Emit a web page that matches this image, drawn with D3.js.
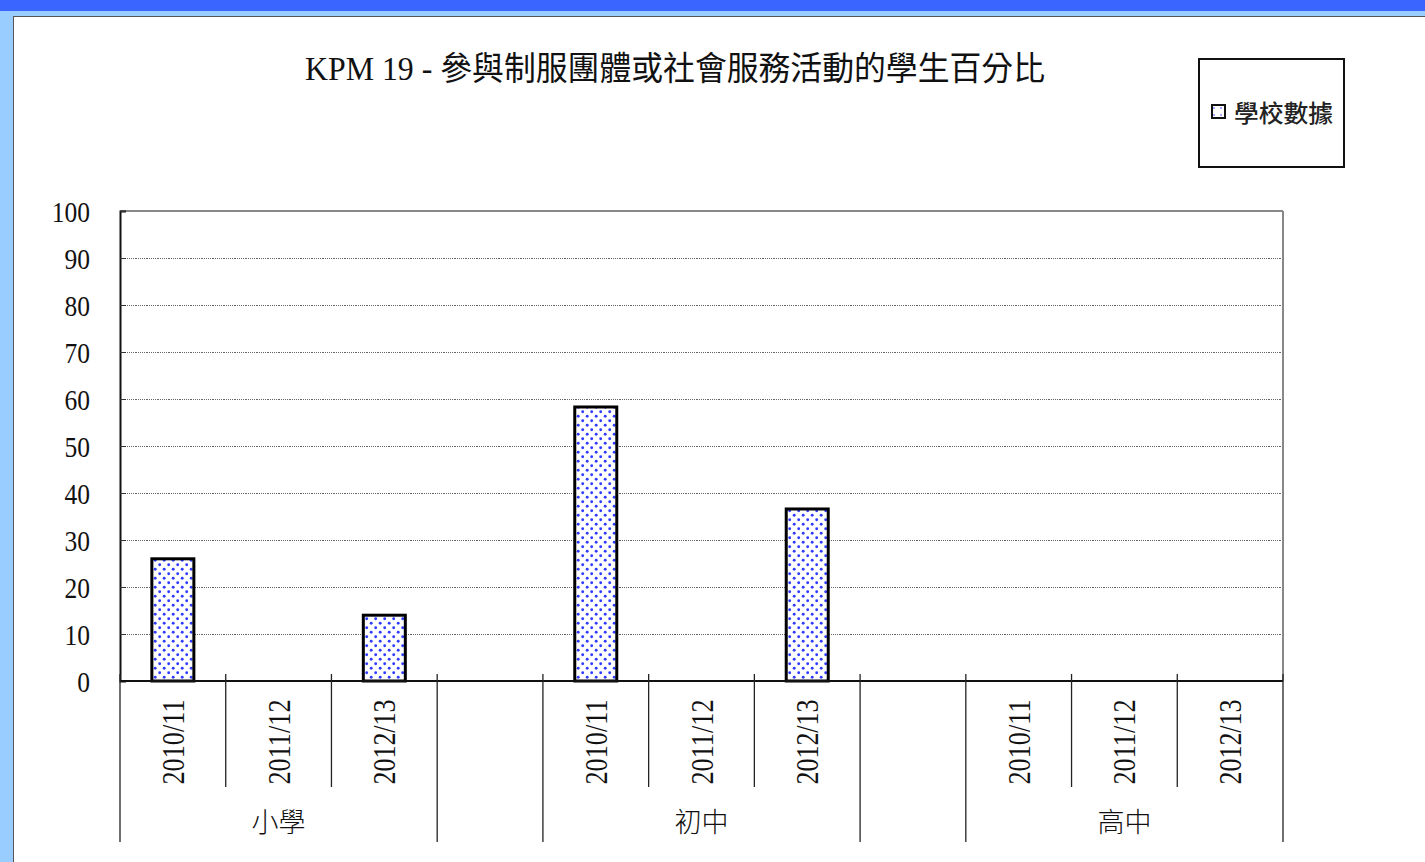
<!DOCTYPE html>
<html>
<head>
<meta charset="utf-8">
<script src="https://cdn.jsdelivr.net/npm/d3@7"></script>
<style>
  html, body { margin: 0; padding: 0; background: #fff; }
  svg { display: block; }
</style>
</head>
<body>
<script>
// ---- data ----
const title = "KPM 19 - 參與制服團體或社會服務活動的學生百分比";
const groups = ["小學", "初中", "高中"];
const years = ["2010/11", "2011/12", "2012/13"];
const valuesPrimary = [26, null, 14];     // 小學
const valuesJunior  = [58.3, null, 36.6]; // 初中
const valuesSenior  = [null, null, null]; // 高中
const seriesName = "學校數據";
const yTicks = [0, 10, 20, 30, 40, 50, 60, 70, 80, 90, 100];

const groupValues = [valuesPrimary, valuesJunior, valuesSenior];

// build slots: each group has its years, with an empty spacer slot between groups
const slots = [];
groups.forEach((g, gi) => {
  years.forEach((y, yi) => slots.push({key: g + "|" + y, group: g, year: y, value: groupValues[gi][yi], gi}));
  if (gi < groups.length - 1) slots.push({key: "gap" + gi, spacer: true, gi});
});

const W = 1425, H = 862;
const plot = {left: 120, right: 1283, top: 211, bottom: 681};
const serif = "'Liberation Serif', 'Times New Roman', 'Noto Sans CJK TC', serif";
const cjkSerifMix = "'Liberation Serif', 'Noto Sans CJK TC', serif";

const svg = d3.select("body").append("svg").attr("width", W).attr("height", H);

// pattern
const defs = svg.append("defs");
const pat = defs.append("pattern").attr("id", "dots").attr("patternUnits", "userSpaceOnUse")
  .attr("width", 9).attr("height", 9);
pat.append("rect").attr("width", 9).attr("height", 9).attr("fill", "#fff");
[[2.2, 2.2], [6.7, 6.7]].forEach(([cx, cy]) =>
  pat.append("circle").attr("cx", cx).attr("cy", cy).attr("r", 1.45).attr("fill", "#2f3cff"));
const pat2 = defs.append("pattern").attr("id", "dotsSparse").attr("patternUnits", "userSpaceOnUse")
  .attr("width", 7).attr("height", 7);
pat2.append("rect").attr("width", 7).attr("height", 7).attr("fill", "#fff");
pat2.append("circle").attr("cx", 3).attr("cy", 3).attr("r", 1).attr("fill", "#8c8cff");

// background frame
svg.append("rect").attr("width", W).attr("height", H).attr("fill", "#99ccff");
svg.append("rect").attr("width", W).attr("height", 11).attr("fill", "#3a66ff");
svg.append("rect").attr("x", 13.5).attr("y", 16.5).attr("width", W).attr("height", H)
  .attr("fill", "#fff").attr("stroke", "#555").attr("stroke-width", 1);

// scales
const x = d3.scaleBand().domain(slots.map(d => d.key)).range([plot.left, plot.right]).padding(0);
const y = d3.scaleLinear().domain([0, 100]).range([plot.bottom, plot.top]);

// gridlines
svg.append("g").selectAll("line").data(yTicks.filter(t => t > 0 && t < 100)).join("line")
  .attr("x1", plot.left).attr("x2", plot.right)
  .attr("y1", d => y(d)).attr("y2", d => y(d))
  .attr("stroke", "#666").attr("stroke-width", 1).attr("stroke-dasharray", "1.2,1")
  .attr("shape-rendering", "crispEdges");

// frame top & right
svg.append("line").attr("x1", plot.left).attr("x2", plot.right).attr("y1", y(100)).attr("y2", y(100))
  .attr("stroke", "#888").attr("stroke-width", 2);
svg.append("line").attr("x1", plot.right).attr("x2", plot.right).attr("y1", y(100)).attr("y2", y(0))
  .attr("stroke", "#888").attr("stroke-width", 2);

// y axis
const yAxis = svg.append("g").attr("transform", `translate(${plot.left},0)`)
  .call(d3.axisRight(y).tickValues(yTicks).tickSize(6).tickFormat(d3.format("d")));
yAxis.select(".domain").attr("stroke", "#111").attr("stroke-width", 2);
yAxis.selectAll(".tick line").attr("stroke", "#333");
yAxis.selectAll(".tick text")
  .attr("x", -30).attr("dy", "0.35em").attr("text-anchor", "end")
  .attr("font-family", serif).attr("font-size", 30).attr("fill", "#111")
  .each(function() {
    const w = this.getComputedTextLength();
    d3.select(this).attr("textLength", w * 0.85).attr("lengthAdjust", "spacingAndGlyphs");
  });

// bars
svg.append("g").selectAll("rect").data(slots.filter(d => !d.spacer && d.value != null)).join("rect")
  .attr("x", d => x(d.key) + x.bandwidth() * 0.5 - 21)
  .attr("width", 42)
  .attr("y", d => y(d.value))
  .attr("height", d => y(0) - y(d.value))
  .attr("fill", "url(#dots)").attr("stroke", "#000").attr("stroke-width", 3);

// x axis baseline
svg.append("line").attr("x1", plot.left).attr("x2", plot.right).attr("y1", y(0)).attr("y2", y(0))
  .attr("stroke", "#111").attr("stroke-width", 2);

// x ticks (slot boundaries)
const boundaries = d3.range(slots.length + 1).map(i => {
  const xv = i < slots.length ? x(slots[i].key) : plot.right;
  const prev = slots[i - 1], next = slots[i];
  const long = !prev || !next || prev.spacer || next.spacer;
  return {xv, long};
});
svg.append("g").selectAll("line").data(boundaries).join("line")
  .attr("x1", d => d.xv).attr("x2", d => d.xv)
  .attr("y1", y(0) - 7).attr("y2", d => d.long ? 842 : 787)
  .attr("stroke", "#222").attr("stroke-width", 1.3);

// year labels
svg.append("g").selectAll("text").data(slots.filter(d => !d.spacer)).join("text")
  .attr("transform", d => `translate(${x(d.key) + x.bandwidth() / 2 + 11},742) rotate(-90)`)
  .attr("text-anchor", "middle")
  .attr("font-family", serif).attr("font-size", 32).attr("fill", "#111")
  .attr("textLength", 85).attr("lengthAdjust", "spacingAndGlyphs")
  .text(d => d.year);

// group labels
svg.append("g").selectAll("text").data(groups).join("text")
  .attr("x", (g, gi) => {
    const s = slots.filter(d => d.group === g);
    return (x(s[0].key) + x(s[s.length - 1].key) + x.bandwidth()) / 2;
  })
  .attr("y", 832)
  .attr("text-anchor", "middle")
  .attr("font-family", "'Noto Sans CJK TC', sans-serif").attr("font-weight", 300)
  .attr("font-size", 27).attr("fill", "#111")
  .text(d => d);

// title
svg.append("text").attr("x", 675).attr("y", 80).attr("text-anchor", "middle")
  .attr("font-family", cjkSerifMix).attr("font-size", 33).attr("fill", "#111")
  .attr("textLength", 740).attr("lengthAdjust", "spacingAndGlyphs")
  .text(title);

// legend
const lg = svg.append("g");
lg.append("rect").attr("x", 1199).attr("y", 59).attr("width", 145).attr("height", 108)
  .attr("fill", "#fff").attr("stroke", "#111").attr("stroke-width", 2);
lg.append("rect").attr("x", 1212).attr("y", 105).attr("width", 13).attr("height", 13)
  .attr("fill", "url(#dotsSparse)").attr("stroke", "#111").attr("stroke-width", 2);
lg.append("text").attr("x", 1234).attr("y", 122)
  .attr("font-family", "'Noto Sans CJK TC', sans-serif").attr("font-weight", 500)
  .attr("font-size", 24).attr("fill", "#222")
  .attr("textLength", 99).attr("lengthAdjust", "spacingAndGlyphs")
  .text(seriesName);
</script>
</body>
</html>
